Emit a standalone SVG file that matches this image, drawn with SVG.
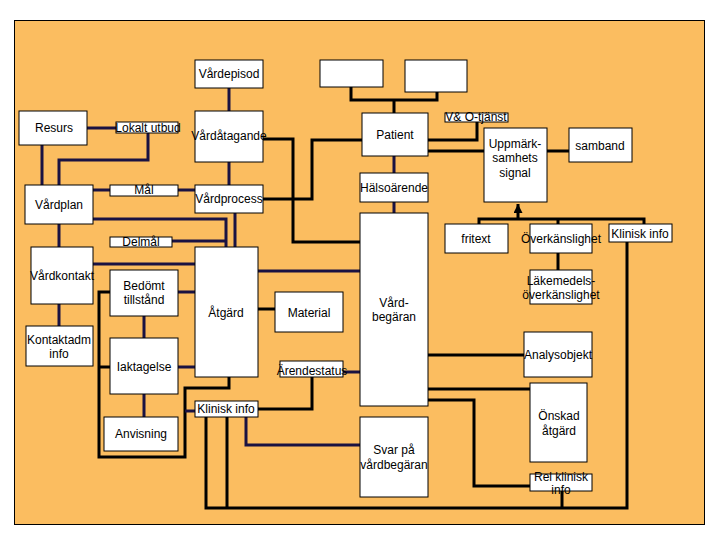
<svg xmlns="http://www.w3.org/2000/svg" width="720" height="540" viewBox="0 0 720 540">
<style>
.n{fill:#fff;stroke:#000;stroke-width:1}
.t{font-family:"Liberation Sans",Arial,sans-serif;font-size:12px;fill:#000;text-anchor:middle;dominant-baseline:central}
.c{fill:none;stroke:#1a1242;stroke-width:3}
.k{fill:none;stroke:#000;stroke-width:3}
</style>
<defs>
<marker id="ah" viewBox="0 0 10 10" refX="10" refY="5" markerWidth="3" markerHeight="3" orient="auto">
<path d="M0,0 L10,5 L0,10 z" fill="#000"/>
</marker>
</defs>
<rect x="0" y="0" width="720" height="540" fill="#fff"/>
<rect x="14.5" y="20.5" width="690" height="504" fill="#FBBD60" stroke="#000" stroke-width="1"/>

<g id="connectors">
<path class="c" d="M229,88 V111"/>
<path class="k" d="M351,87 V100 H437 V92 M394,100 V113"/>
<path class="c" d="M87,128 H116"/>
<path class="c" d="M42,145 V185"/>
<path class="c" d="M148,133 V160 H59 V185"/>
<path class="c" d="M229,162 V185"/>
<path class="k" d="M263,139 H293 V242 H360"/>
<path class="k" d="M362,140 H312 V199 H263"/>
<path class="c" d="M394,156 V173 M394,202 V213"/>
<path class="k" d="M428,140 H477 V122"/>
<path class="k" d="M428,151 H484 M547,151 H569"/>
<path class="k" d="M479,224 V219 H644 V224 M558,219 V224"/>
<path class="k" d="M518,219 V204" marker-end="url(#ah)"/>
<path class="k" d="M558,253 V270"/>
<path class="k" d="M206,417 V508 H627 V242 M227,417 V508"/>
<path class="c" d="M246,417 V445 H360"/>
<path class="k" d="M258,409 H312 V377"/>
<path class="c" d="M343,372 H360"/>
<path class="k" d="M229,377 V388 H185 V457 H99 V292 H110 M99,367 H110"/>
<path class="c" d="M185,411 H195"/>
<path class="c" d="M144,316 V338 M144,394 V417"/>
<path class="c" d="M178,292 H195 M178,367 H195"/>
<path class="c" d="M93,264 H195"/>
<path class="c" d="M258,271 H360"/>
<path class="k" d="M258,309 H275"/>
<path class="c" d="M59,224 V247 M59,304 V326"/>
<path class="c" d="M93,190 H110 M178,190 H195"/>
<path class="c" d="M93,219 H226 V247 M172,241 H226"/>
<path class="c" d="M235,213 V247"/>
<path class="k" d="M428,355 H524"/>
<path class="k" d="M428,389 H530"/>
<path class="k" d="M428,400 H474 V486 H530"/>
<path class="k" d="M562,491 V508"/>
</g>

<g id="vardepisod"><rect class="n" x="195" y="60" width="68" height="28"/><text class="t" x="229" y="74">Vårdepisod</text></g>
<g id="blank1"><rect class="n" x="320" y="60" width="63" height="27"/></g>
<g id="blank2"><rect class="n" x="405" y="60" width="62" height="32"/></g>
<g id="resurs"><rect class="n" x="19" y="111" width="68" height="34"/><text class="t" x="54" y="128">Resurs</text></g>
<g id="lokalt"><rect class="n" x="116" y="122" width="62" height="11"/><text class="t" x="148" y="128">Lokalt utbud</text></g>
<g id="vardatagande"><rect class="n" x="195" y="111" width="68" height="51"/><text class="t" x="229" y="136">Vårdåtagande</text></g>
<g id="patient"><rect class="n" x="362" y="113" width="66" height="43"/><text class="t" x="395" y="135">Patient</text></g>
<g id="vo"><rect class="n" x="445" y="113" width="63" height="9"/><text class="t" x="476" y="117">V&amp; O-tjänst</text></g>
<g id="uppmark"><rect class="n" x="484" y="128" width="63" height="74"/><text class="t" x="515" y="144">Uppmärk-</text><text class="t" x="515" y="158">samhets</text><text class="t" x="515" y="173">signal</text></g>
<g id="samband"><rect class="n" x="569" y="128" width="63" height="34"/><text class="t" x="600" y="146">samband</text></g>
<g id="vardplan"><rect class="n" x="25" y="185" width="68" height="39"/><text class="t" x="59" y="205">Vårdplan</text></g>
<g id="mal"><rect class="n" x="110" y="185" width="68" height="11"/><text class="t" x="144" y="190">Mål</text></g>
<g id="vardprocess"><rect class="n" x="195" y="185" width="68" height="28"/><text class="t" x="229" y="199">Vårdprocess</text></g>
<g id="halsoarende"><rect class="n" x="360" y="173" width="68" height="29"/><text class="t" x="394" y="188">Hälsoärende</text></g>
<g id="delmal"><rect class="n" x="110" y="237" width="62" height="10"/><text class="t" x="141" y="242">Delmål</text></g>
<g id="vardkontakt"><rect class="n" x="31" y="247" width="62" height="57"/><text class="t" x="62" y="276">Vårdkontakt</text></g>
<g id="bedomt"><rect class="n" x="110" y="270" width="68" height="46"/><text class="t" x="144" y="286">Bedömt</text><text class="t" x="144" y="300">tillstånd</text></g>
<g id="atgard"><rect class="n" x="195" y="247" width="63" height="130"/><text class="t" x="226" y="313">Åtgärd</text></g>
<g id="material"><rect class="n" x="275" y="292" width="68" height="40"/><text class="t" x="309" y="313">Material</text></g>
<g id="kontaktadm"><rect class="n" x="26" y="326" width="67" height="40"/><text class="t" x="59" y="340">Kontaktadm</text><text class="t" x="59" y="354">info</text></g>
<g id="iaktagelse"><rect class="n" x="110" y="338" width="68" height="56"/><text class="t" x="144" y="367">Iaktagelse</text></g>
<g id="arendestatus"><rect class="n" x="280" y="361" width="63" height="16"/><text class="t" x="312" y="371">Ärendestatus</text></g>
<g id="vardbegaran"><rect class="n" x="360" y="213" width="68" height="193"/><text class="t" x="394" y="303">Vård-</text><text class="t" x="394" y="317">begäran</text></g>
<g id="fritext"><rect class="n" x="445" y="224" width="63" height="29"/><text class="t" x="476" y="239">fritext</text></g>
<g id="overkanslighet"><rect class="n" x="530" y="224" width="62" height="29"/><text class="t" x="561" y="239">Överkänslighet</text></g>
<g id="kliniskinfo1"><rect class="n" x="609" y="224" width="63" height="18"/><text class="t" x="640" y="234">Klinisk info</text></g>
<g id="lakemedel"><rect class="n" x="530" y="270" width="62" height="34"/><text class="t" x="561" y="281">Läkemedels-</text><text class="t" x="561" y="295">överkänslighet</text></g>
<g id="analysobjekt"><rect class="n" x="524" y="332" width="68" height="45"/><text class="t" x="558" y="355">Analysobjekt</text></g>
<g id="onskad"><rect class="n" x="530" y="383" width="57" height="79"/><text class="t" x="559" y="416">Önskad</text><text class="t" x="559" y="431">åtgärd</text></g>
<g id="relklinisk"><rect class="n" x="530" y="474" width="62" height="17"/><text class="t" x="561" y="477">Rel klinisk</text><text class="t" x="561" y="490">info</text></g>
<g id="svar"><rect class="n" x="360" y="417" width="68" height="80"/><text class="t" x="394" y="450">Svar på</text><text class="t" x="394" y="465">vårdbegäran</text></g>
<g id="kliniskinfo2"><rect class="n" x="195" y="401" width="63" height="16"/><text class="t" x="226" y="409">Klinisk info</text></g>
<g id="anvisning"><rect class="n" x="104" y="417" width="74" height="34"/><text class="t" x="141" y="434">Anvisning</text></g>
</svg>
